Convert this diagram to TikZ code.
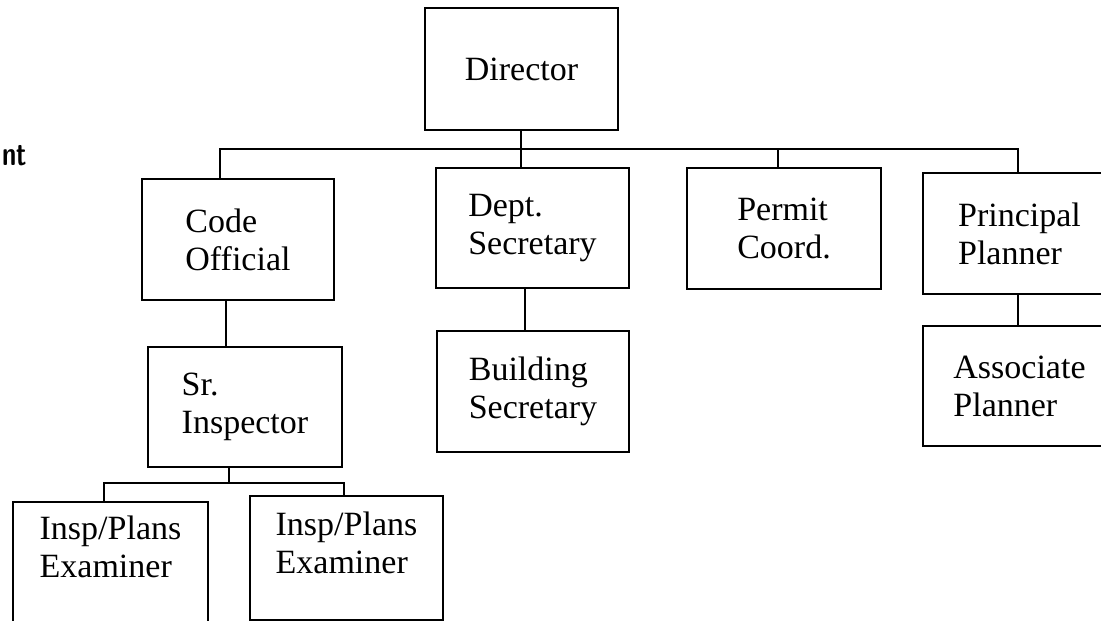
\documentclass[tikz,border=0pt]{standalone}
\usepackage{fontspec}
\setmainfont{Liberation Serif}
\begin{document}
\begin{tikzpicture}[x=1pt,y=-1pt,
    post/.style={draw,line width=1.4pt,
                 minimum width=193pt,
                 minimum height=121pt,
                 align=left,
                 font=\fontsize{34}{38}\selectfont},
    link/.style={line width=1.4pt}]
  \useasboundingbox (0,0) rectangle (1101,621);
  \clip (0,0) rectangle (1101,621);
  \node[font=\sffamily\bfseries\fontsize{34}{34}\selectfont,
        anchor=base west,inner sep=0pt]
    (deptlabel) at (2,165) {\scalebox{0.75}[1]{nt}};
  \node[post,minimum height=122pt]
    (director) at (521.5,69) {Director};
  \node[post,minimum width=192pt]
    (code) at (238,239.5) {Code\\Official};
  \node[post,minimum height=120pt]
    (dept) at (532.5,228) {Dept.\\Secretary};
  \node[post,minimum width=194pt]
    (permit) at (784,228.5) {Permit\\Coord.};
  \node[post]
    (principal) at (1019.5,233.5) {Principal\\Planner};
  \node[post,minimum width=194pt,minimum height=120pt]
    (sr) at (245,407) {Sr.\\Inspector};
  \node[post,minimum width=192pt]
    (bldg) at (533,391.5) {Building\\Secretary};
  \node[post,minimum height=120pt]
    (assoc) at (1019.5,386) {Associate\\Planner};
  \node[post,minimum width=195pt,minimum height=124pt,text depth=34pt]
    (exama) at (110.5,564) {Insp/Plans\\Examiner};
  \node[post,minimum height=124pt,text depth=30pt]
    (examb) at (346.5,558) {Insp/Plans\\Examiner};
  % top bar
  \coordinate (topbar) at (521,149);
  \draw[link] ([xshift=-18pt]code.north) |- (topbar)
    -| ([xshift=-1.5pt]principal.north);
  \draw[link] ([xshift=-0.5pt]director.south)
    -- ([xshift=-0.5pt]director.south |- dept.north);
  \draw[link] ([xshift=-6pt]permit.north)
    -- ([xshift=-6pt]permit.north |- topbar);
  % lower links
  \draw[link] ([xshift=-12pt]code.south) -- ([xshift=-12pt]code.south |- sr.north);
  \draw[link] ([xshift=-8pt]bldg.north) -- ([xshift=-8pt]bldg.north |- dept.south);
  \draw[link] ([xshift=-1.5pt]principal.south) -- ([xshift=-1.5pt]assoc.north);
  \coordinate (lowbar) at (229,483);
  \draw[link] ([xshift=-16pt]sr.south) -- (lowbar);
  \draw[link] ([xshift=-6.5pt]exama.north) |- (lowbar)
    -| ([xshift=-2.5pt]examb.north);
\end{tikzpicture}
\end{document}
